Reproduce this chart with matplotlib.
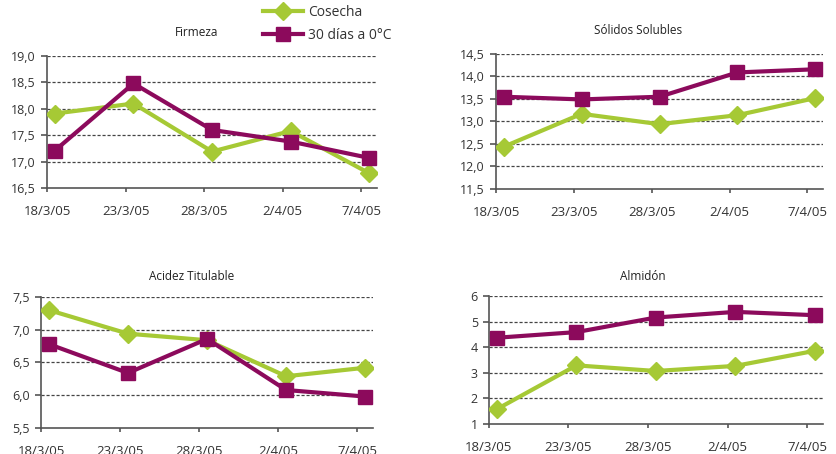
import matplotlib
matplotlib.use("Agg")
import matplotlib.pyplot as plt
from matplotlib.ticker import FuncFormatter

plt.rcParams['font.family'] = ['Open Sans', 'DejaVu Sans']

# fechas de muestreo
fechas = ['18/3/05', '23/3/05', '28/3/05', '2/4/05', '7/4/05']

firmeza_cosecha = [17.91, 18.10, 17.19, 17.58, 16.78]
firmeza_30dias = [17.21, 18.48, 17.60, 17.38, 17.07]

solidos_cosecha = [12.44, 13.17, 12.94, 13.14, 13.52]
solidos_30dias = [13.55, 13.49, 13.55, 14.09, 14.16]

acidez_cosecha = [7.30, 6.94, 6.84, 6.29, 6.42]
acidez_30dias = [6.78, 6.34, 6.86, 6.08, 5.98]

almidon_cosecha = [1.58, 3.29, 3.07, 3.27, 3.86]
almidon_30dias = [4.37, 4.59, 5.16, 5.38, 5.25]

VERDE = '#a6c935'
MORADO = '#8c0a5c'
GRIS = '#555555'

fig = plt.figure(figsize=(8.37, 4.54), dpi=100)


def coma(dec):
    return FuncFormatter(lambda v, p: f'{v:.{dec}f}'.replace('.', ','))


def panel(rect, titulo, tpos, cosecha, dias30, ylim, paso, dec):
    ax = fig.add_axes(rect)
    xs = [i + 0.1 for i in range(len(fechas))]
    l1, = ax.plot(xs, cosecha, color=VERDE, lw=3, marker='D', ms=9.5,
                  label='Cosecha', zorder=3)
    l2, = ax.plot(xs, dias30, color=MORADO, lw=3, marker='s', ms=10,
                  label='30 días a 0°C', zorder=4)
    ax.set_xlim(0, 4.2)
    ax.set_ylim(*ylim)
    n = round((ylim[1] - ylim[0]) / paso)
    ticks = [ylim[0] + k * paso for k in range(n + 1)]
    ax.set_yticks(ticks)
    ax.yaxis.set_major_formatter(coma(dec))
    ax.set_xticks(range(len(fechas)))
    ax.set_xticklabels(fechas)
    for t in ticks[1:]:
        ax.axhline(t, color='#444444', lw=0.9, ls=(0, (2.5, 1.5)), zorder=1)
    for s in ['top', 'right']:
        ax.spines[s].set_visible(False)
    for s in ['left', 'bottom']:
        ax.spines[s].set_color(GRIS)
        ax.spines[s].set_linewidth(1.2)
    ax.tick_params(axis='y', length=4, width=1.2, color=GRIS, labelsize=9,
                   pad=4, labelcolor='#333333')
    ax.tick_params(axis='x', length=3, width=1.2, color=GRIS, labelsize=9.5,
                   pad=9, labelcolor='#333333')
    fig.text(tpos[0] / 837, 1 - tpos[1] / 454, titulo, ha='center',
             va='center', fontsize=8.5, color='#222222')
    return ax, l1, l2


ax1, h1, h2 = panel([0.0562, 0.5859, 0.3943, 0.2907], 'Firmeza', (197, 33),
                    firmeza_cosecha, firmeza_30dias, (16.5, 19.0), 0.5, 1)
panel([0.5926, 0.5837, 0.3907, 0.2974], 'Sólidos Solubles', (638, 31),
      solidos_cosecha, solidos_30dias, (11.5, 14.5), 0.5, 1)
panel([0.0490, 0.0573, 0.3967, 0.2885], 'Acidez Titulable', (192, 276),
      acidez_cosecha, acidez_30dias, (5.5, 7.5), 0.5, 1)
panel([0.5842, 0.0661, 0.3990, 0.2819], 'Almidón', (643, 276),
      almidon_cosecha, almidon_30dias, (1, 6), 1, 0)

fig.legend(handles=[h1, h2], loc='upper left',
           bbox_to_anchor=(263 / 837, 1 - 5 / 454), frameon=False,
           fontsize=10, handlelength=2.9, handletextpad=0.35,
           labelspacing=0.55, borderpad=0, borderaxespad=0,
           labelcolor='#333333')

fig.savefig('out.png', dpi=100)
